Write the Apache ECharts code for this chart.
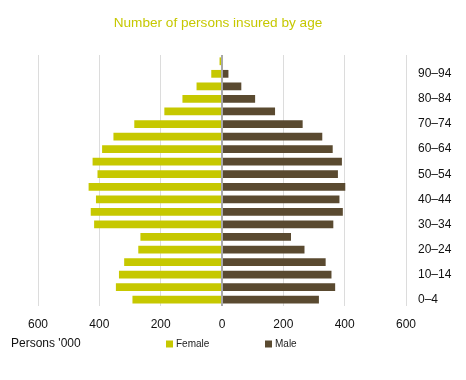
<!DOCTYPE html>
<html><head><meta charset="utf-8">
<script src="https://cdn.jsdelivr.net/npm/echarts@6/dist/echarts.min.js"></script>
<style>html,body{margin:0;padding:0;background:#fff}#c{width:466px;height:380px}</style>
</head><body><div id="c"></div>
<script>
var ageGroups = ['0–4','5–9','10–14','15–19','20–24','25–29','30–34','35–39','40–44','45–49','50–54','55–59','60–64','65–69','70–74','75–79','80–84','85–89','90–94','95+'];
var female = [292,346,336,319,273,266,417,428,411,435,406,422,391,354,286,188,129,83,35,8];
var male   = [316,369,357,338,269,225,363,394,383,402,378,391,361,327,263,173,108,63,21,2];
var xTicks = [-600,-400,-200,0,200,400,600];
var FONT = 'Arial, "Liberation Sans", sans-serif';
var chart = echarts.init(document.getElementById('c'));
chart.setOption({
  animation:false,
  title:{text:'Number of persons insured by age',left:213,textAlign:'center',top:11,
    textStyle:{color:'#c6c800',fontSize:13.6,fontWeight:'normal',fontFamily:FONT}},
  legend:[
    {data:['Female'],left:161,top:334,itemWidth:7,itemHeight:7,itemGap:4,icon:'rect',
      textStyle:{fontSize:10,color:'#222',fontFamily:FONT,padding:[0,0,0,-2]}},
    {data:['Male'],left:260,top:334,itemWidth:7,itemHeight:7,itemGap:4,icon:'rect',
      textStyle:{fontSize:10,color:'#222',fontFamily:FONT,padding:[0,0,0,-2]}}
  ],
  graphic:[{type:'text',left:11,top:338,style:{text:"Persons '000",fontSize:12,fill:'#111',fontFamily:FONT}}],
  grid:{left:38,right:60,top:55,bottom:74},
  xAxis:{type:'value',min:xTicks[0],max:xTicks[xTicks.length-1],interval:200,
    axisLine:{show:false},axisTick:{show:false},
    axisLabel:{formatter:function(v){return Math.abs(v);},color:'#111',fontSize:12,margin:13,fontFamily:FONT},
    splitLine:{show:true,lineStyle:{color:'#dcdcdc',width:1}}},
  yAxis:{type:'category',data:ageGroups,position:'right',
    axisLine:{show:false,onZero:false},axisTick:{show:false},
    axisLabel:{interval:1,color:'#111',fontSize:12,margin:12,fontFamily:FONT}},
  series:[
    {name:'Female',type:'bar',stack:'s',barWidth:'62%',itemStyle:{color:'#c6c800'},
      data:female.map(function(v){return -v;}),
      markLine:{silent:true,symbol:'none',label:{show:false},
        lineStyle:{color:'#a8a8a8',width:2,type:'solid'},data:[{xAxis:0}]}},
    {name:'Male',type:'bar',stack:'s',barWidth:'62%',itemStyle:{color:'#5a4a30'},data:male}
  ]
});
</script></body></html>
